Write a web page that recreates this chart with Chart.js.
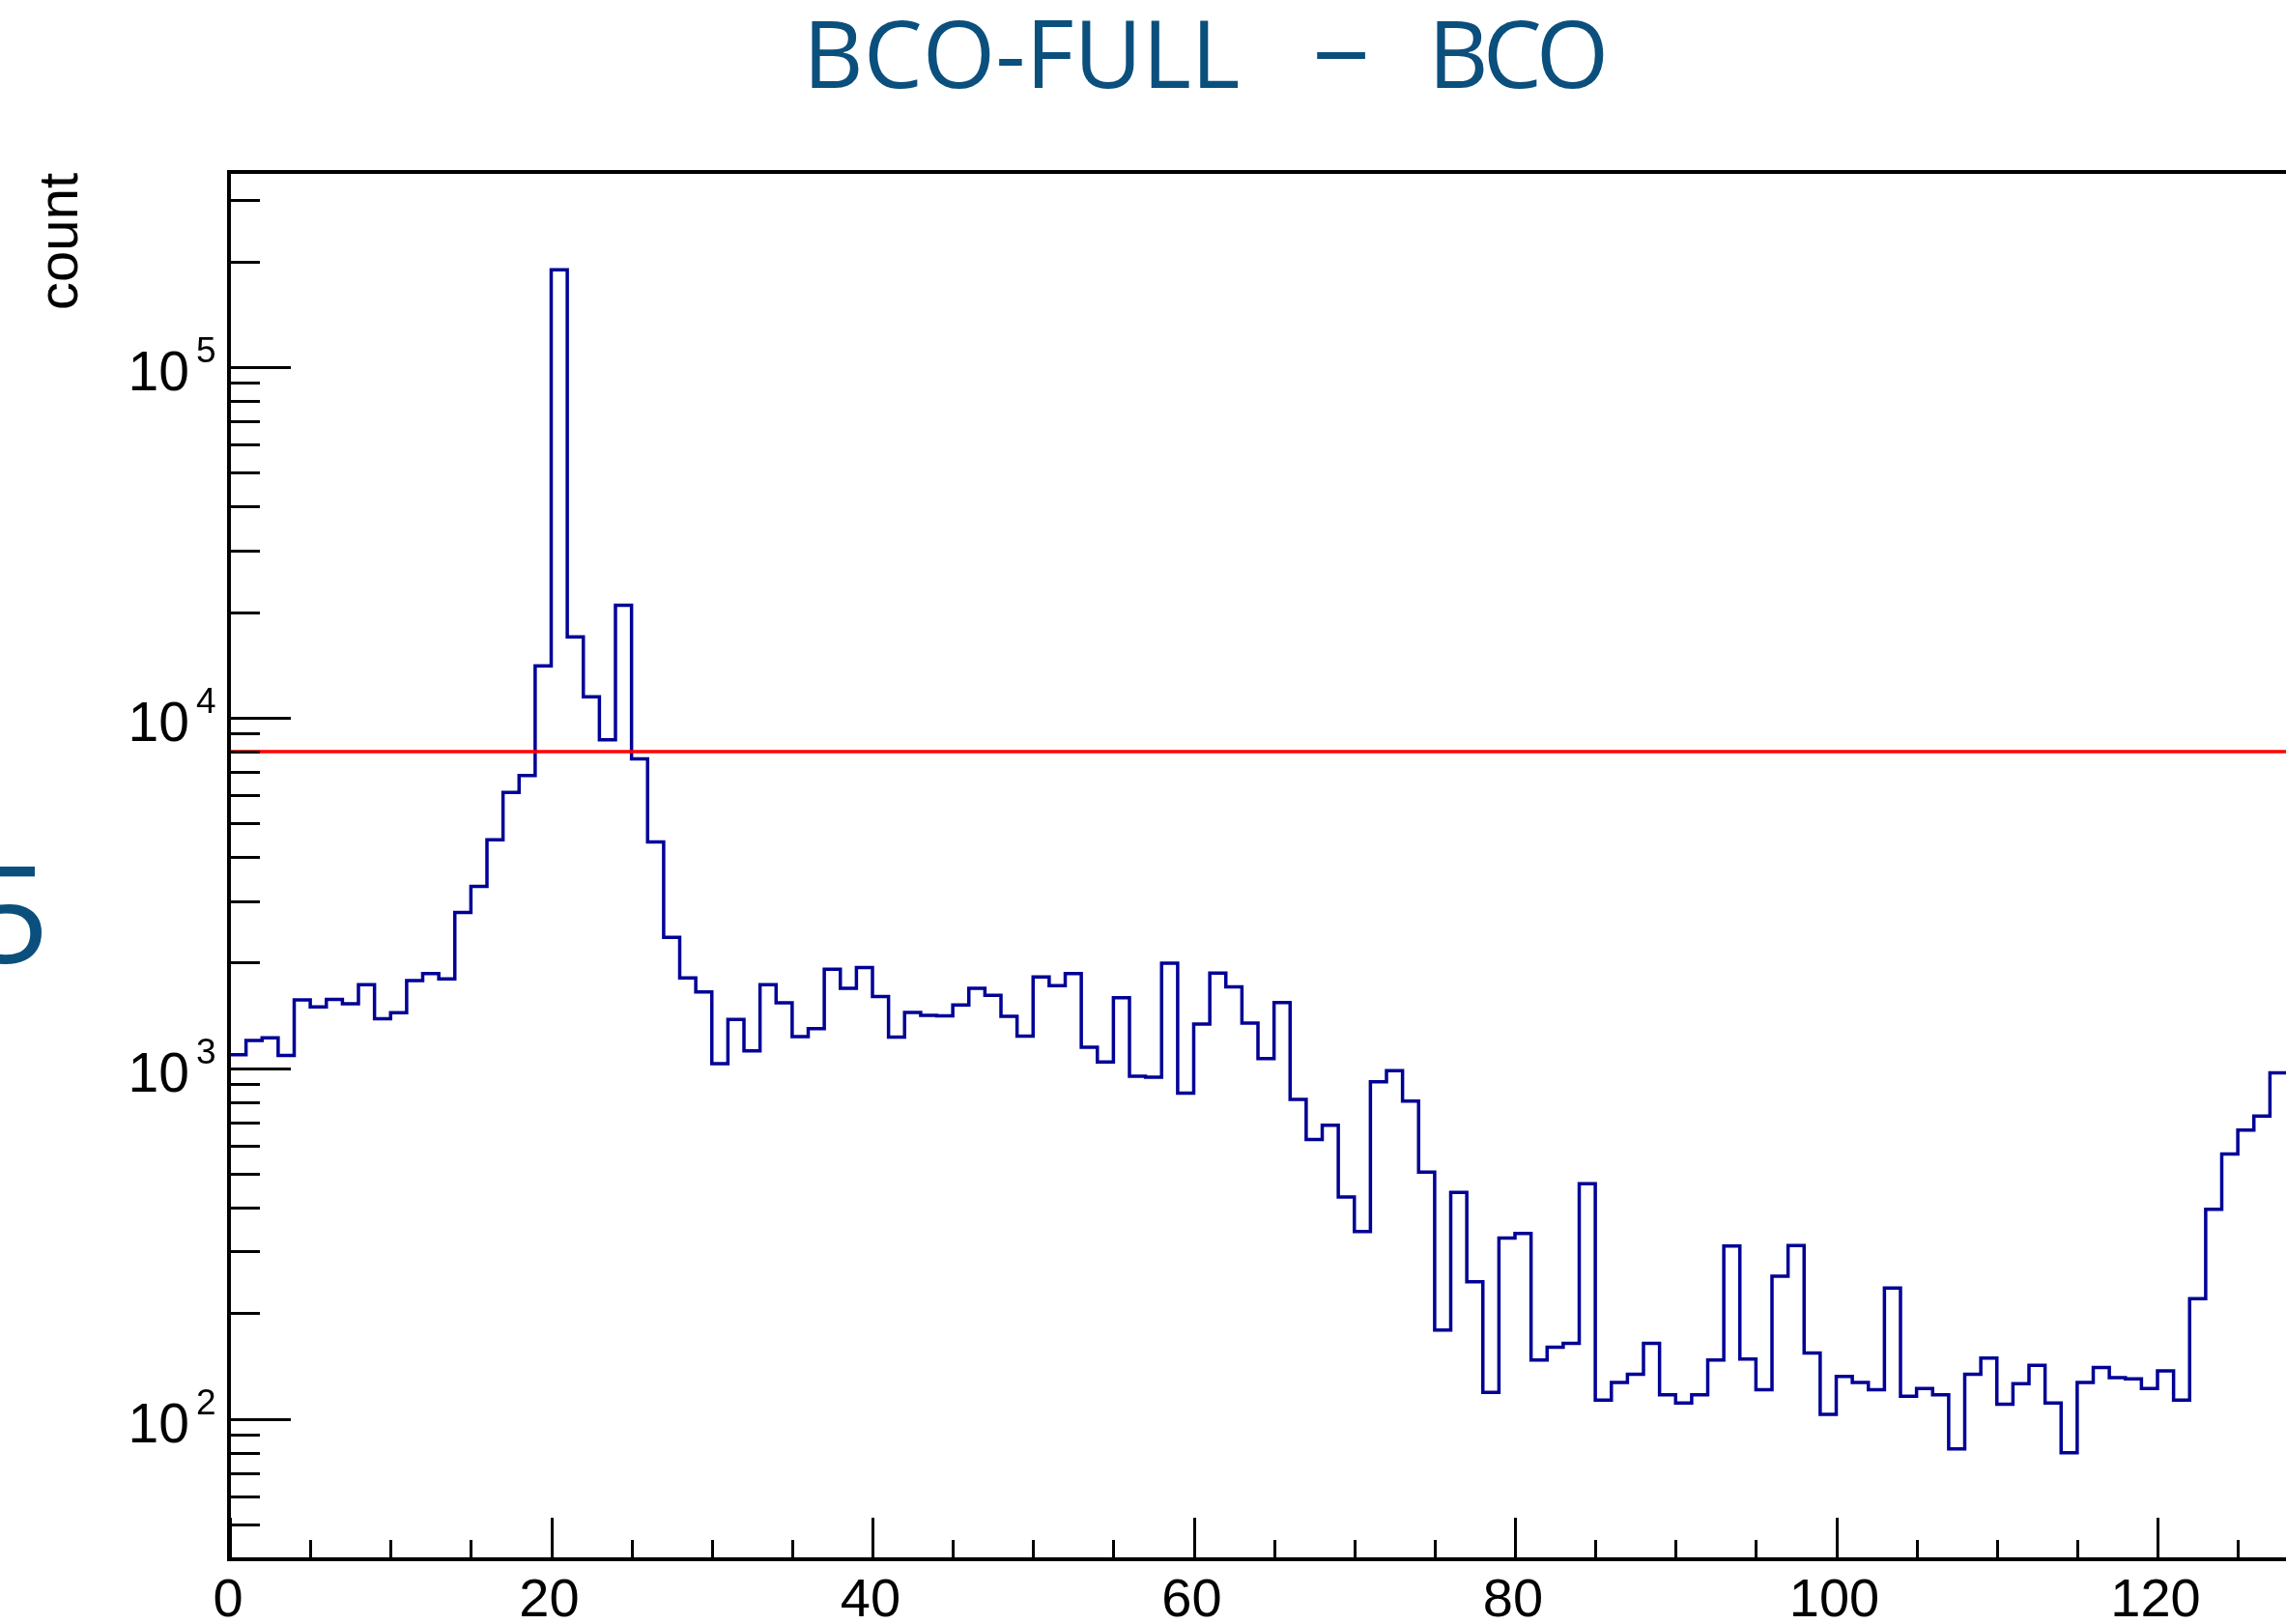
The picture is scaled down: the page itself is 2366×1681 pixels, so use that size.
<!DOCTYPE html>
<html>
<head>
<meta charset="utf-8">
<title>BCO-FULL – BCO</title>
<script src="https://cdn.jsdelivr.net/npm/chart.js@4.4.1/dist/chart.umd.min.js"></script>
<style>
  html, body { margin: 0; padding: 0; background: #ffffff; overflow: hidden; }
  #wrap { position: relative; width: 2366px; height: 1681px; }
  canvas { display: block; }
</style>
</head>
<body>
<div id="wrap"><canvas id="hist" width="2366" height="1681"></canvas></div>
<script>
// Lower edge of every BCO-FULL – BCO bin (unit width)
const binEdges = [
  0, 1, 2, 3, 4, 5, 6, 7, 8, 9, 10, 11, 12, 13, 14, 15,
  16, 17, 18, 19, 20, 21, 22, 23, 24, 25, 26, 27, 28, 29, 30, 31,
  32, 33, 34, 35, 36, 37, 38, 39, 40, 41, 42, 43, 44, 45, 46, 47,
  48, 49, 50, 51, 52, 53, 54, 55, 56, 57, 58, 59, 60, 61, 62, 63,
  64, 65, 66, 67, 68, 69, 70, 71, 72, 73, 74, 75, 76, 77, 78, 79,
  80, 81, 82, 83, 84, 85, 86, 87, 88, 89, 90, 91, 92, 93, 94, 95,
  96, 97, 98, 99, 100, 101, 102, 103, 104, 105, 106, 107, 108, 109, 110, 111,
  112, 113, 114, 115, 116, 117, 118, 119, 120, 121, 122, 123, 124, 125, 126, 127
];
const lastBinUpperEdge = 128;

// Entries per bin
const counts = [
  1093, 1200, 1221, 1087, 1566, 1496, 1570, 1527, 1730, 1383, 1439, 1779, 1862, 1798, 2780, 3300,
  4480, 6120, 6840, 14050, 189400, 16990, 11460, 8650, 20900, 7620, 4420, 2361, 1810, 1649, 1030, 1378,
  1121, 1730, 1536, 1231, 1297, 1914, 1690, 1936, 1602, 1227, 1443, 1415, 1410, 1514, 1690, 1615,
  1406, 1235, 1820, 1720, 1862, 1147, 1041, 1588, 949, 943, 1993, 849, 1336, 1867, 1705, 1344,
  1065, 1540, 814, 626, 687, 429, 342, 915, 984, 805, 505, 179, 442, 246, 119, 328,
  338, 147, 160, 164, 468, 113, 127, 134, 164, 117, 111, 117, 147, 311, 148, 121,
  255, 312, 154, 103, 132, 127, 121, 236, 116, 122, 117, 82, 134, 149, 110, 126,
  142, 111, 80, 127, 140, 131, 130, 122, 137, 113, 220, 396, 569, 666, 730, 970
];

// Horizontal cut level
const cutLevel = 8000;

// Axis ranges and ticks
const xRange = [0, 128];
const yRange = [40, 360000];
const xMajorTicks = [0, 20, 40, 60, 80, 100, 120];
const xMinorTicks = [5, 10, 15, 25, 30, 35, 45, 50, 55, 65, 70, 75, 85, 90, 95, 105, 110, 115, 125];
const yDecadeExponents = [2, 3, 4, 5];
const yMinorTicks = [
  40, 50, 60, 70, 80, 90,
  200, 300, 400, 500, 600, 700, 800, 900,
  2000, 3000, 4000, 5000, 6000, 7000, 8000, 9000,
  20000, 30000, 40000, 50000, 60000, 70000, 80000, 90000,
  200000, 300000
];

const titleParts = ['BCO-FULL', '\u2013', 'BCO'];
const yTitle = 'count';
const sideMark = '5';

const histPoints = binEdges.map((x, i) => ({ x: x, y: counts[i] }));
histPoints.push({ x: lastBinUpperEdge, y: counts[counts.length - 1] });

const TITLE_BLUE = '#0b4f7d';
const LABEL_FONT = "'Liberation Sans', Arial, Helvetica, sans-serif";

// Frame, inward ticks, tick labels and titles in the style of a physics histogram canvas
const frameDecor = {
  id: 'frameDecor',
  afterDatasetsDraw(chart) {
    const ctx = chart.ctx;
    const xs = chart.scales.x;
    const ys = chart.scales.y;
    const area = chart.chartArea;
    const axX = area.left - 1;
    const axY = area.bottom + 1;

    ctx.save();
    ctx.strokeStyle = '#000000';
    ctx.lineCap = 'butt';

    // frame
    ctx.lineWidth = 4;
    ctx.beginPath();
    ctx.moveTo(axX - 2, area.top);
    ctx.lineTo(area.right + 4, area.top);
    ctx.moveTo(axX, area.top - 2);
    ctx.lineTo(axX, axY + 2);
    ctx.moveTo(axX - 2, axY);
    ctx.lineTo(area.right + 4, axY);
    ctx.stroke();

    // y ticks
    ctx.lineWidth = 3;
    ctx.beginPath();
    yDecadeExponents.forEach(e => {
      const py = Math.round(ys.getPixelForValue(Math.pow(10, e))) + 0.5;
      ctx.moveTo(axX, py);
      ctx.lineTo(axX + 64, py);
    });
    yMinorTicks.forEach(v => {
      const py = Math.round(ys.getPixelForValue(v)) + 0.5;
      ctx.moveTo(axX, py);
      ctx.lineTo(axX + 32, py);
    });
    // x ticks
    xMajorTicks.forEach(v => {
      const px = Math.round(xs.getPixelForValue(v)) + 0.5;
      ctx.moveTo(px, axY);
      ctx.lineTo(px, axY - 43);
    });
    xMinorTicks.forEach(v => {
      const px = Math.round(xs.getPixelForValue(v)) + 0.5;
      ctx.moveTo(px, axY);
      ctx.lineTo(px, axY - 20);
    });
    ctx.stroke();

    // y tick labels: 10^n
    ctx.fillStyle = '#000000';
    ctx.textBaseline = 'alphabetic';
    yDecadeExponents.forEach(e => {
      const py = ys.getPixelForValue(Math.pow(10, e));
      ctx.font = '57px ' + LABEL_FONT;
      ctx.textAlign = 'right';
      ctx.fillText('10', area.left - 42, py + 24);
      ctx.font = '37px ' + LABEL_FONT;
      ctx.textAlign = 'left';
      ctx.fillText(String(e), area.left - 35, py - 5);
    });

    // x tick labels
    ctx.font = '56px ' + LABEL_FONT;
    ctx.textAlign = 'center';
    xMajorTicks.forEach(v => {
      ctx.fillText(String(v), xs.getPixelForValue(v) - 2, 1673);
    });

    // y axis title
    ctx.save();
    ctx.translate(80, area.top + 1);
    ctx.rotate(-Math.PI / 2);
    ctx.textAlign = 'right';
    ctx.font = '58px ' + LABEL_FONT;
    ctx.fillText(yTitle, 0, 0);
    ctx.restore();

    // histogram title
    ctx.fillStyle = TITLE_BLUE;
    ctx.textAlign = 'left';
    ctx.font = "97px 'Open Sans', sans-serif";
    ctx.fillText(titleParts[0], 831, 91);
    // the dash, widened a little
    ctx.save();
    ctx.translate(1388, 84);
    ctx.scale(1.22, 1);
    ctx.textAlign = 'center';
    ctx.fillText(titleParts[1], 0, 0);
    ctx.restore();
    ctx.textAlign = 'left';
    ctx.letterSpacing = '-6px';
    ctx.fillText(titleParts[2], 1478, 91);
    ctx.letterSpacing = '0px';

    // large label from the neighbouring pad, cut by the canvas edge
    ctx.font = "140px 'Open Sans', sans-serif";
    ctx.textAlign = 'right';
    ctx.fillText(sideMark, 51, 997);

    ctx.restore();
  }
};

new Chart(document.getElementById('hist'), {
  type: 'line',
  data: {
    datasets: [
      {
        label: 'cut',
        data: [{ x: xRange[0], y: cutLevel }, { x: xRange[1], y: cutLevel }],
        borderColor: '#ff0000',
        borderWidth: 3.5,
        pointRadius: 0,
        fill: false,
        order: 0
      },
      {
        label: 'BCO-FULL – BCO',
        data: histPoints,
        stepped: 'before',
        borderColor: '#000096',
        borderWidth: 3.5,
        borderJoinStyle: 'miter',
        borderCapStyle: 'butt',
        pointRadius: 0,
        fill: false,
        order: 1
      }
    ]
  },
  options: {
    responsive: false,
    animation: false,
    devicePixelRatio: 1,
    layout: { padding: { left: 238, top: 178, right: 0, bottom: 68 } },
    plugins: {
      legend: { display: false },
      tooltip: { enabled: false },
      title: { display: false }
    },
    scales: {
      x: { type: 'linear', min: xRange[0], max: xRange[1], display: false },
      y: { type: 'logarithmic', min: yRange[0], max: yRange[1], display: false }
    }
  },
  plugins: [frameDecor]
});
</script>
</body>
</html>
